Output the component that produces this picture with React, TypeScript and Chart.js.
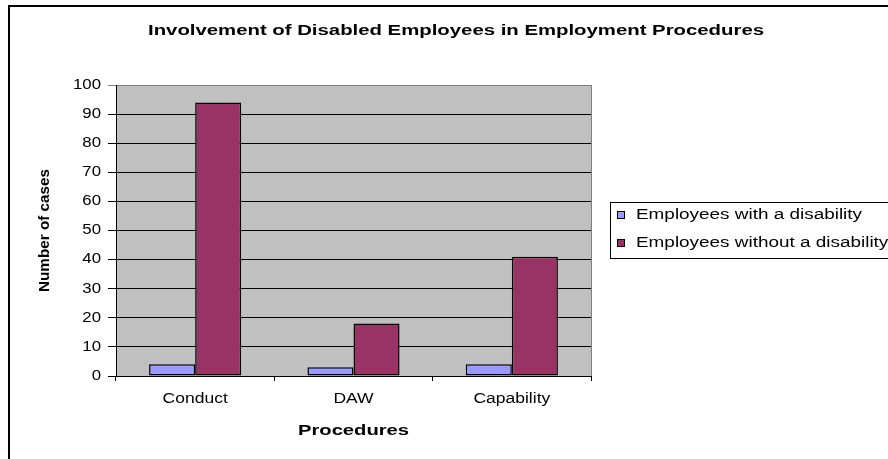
import React, { useEffect, useRef } from "react";
import { Chart, registerables } from "chart.js";

Chart.register(...registerables);

const titleText = "Involvement of Disabled Employees in Employment Procedures";
const xTitleText = "Procedures";
const yTitleText = "Number of cases";
const categories = ["Conduct", "DAW", "Capability"];
const seriesNames = ["Employees with a disability", "Employees without a disability"];
const withDisability = [4, 3, 4];
const withoutDisability = [94, 18, 41];
const yTickValues = [0, 10, 20, 30, 40, 50, 60, 70, 80, 90, 100];
const seriesColors = ["#9999FF", "#993366"];

const FONT = '"Liberation Sans", Arial, sans-serif';

function drawText(
  ctx: CanvasRenderingContext2D,
  text: string,
  x: number,
  y: number,
  font: string,
  align: CanvasTextAlign,
  opts: { sx?: number; width?: number } = {}
) {
  ctx.save();
  ctx.font = font;
  ctx.fillStyle = "#000";
  ctx.textBaseline = "middle";
  ctx.textAlign = align;
  const w = ctx.measureText(text).width;
  const sx = opts.width ? opts.width / w : opts.sx ?? 1;
  ctx.translate(x, y);
  ctx.scale(sx, 1);
  ctx.fillText(text, 0, 0);
  ctx.restore();
}

const customPlugin = {
  id: "customDecor",
  beforeDraw(chart: any) {
    const { ctx, chartArea: a } = chart;
    ctx.save();
    ctx.fillStyle = "#ffffff";
    ctx.fillRect(0, 0, chart.width, chart.height);
    ctx.fillStyle = "#C0C0C0";
    ctx.fillRect(a.left, a.top, a.right - a.left, a.bottom - a.top);
    ctx.restore();
  },
  afterDraw(chart: any) {
    const { ctx, chartArea: a } = chart;
    const xs = chart.scales.x;
    const ys = chart.scales.y;
    ctx.save();
    ctx.strokeStyle = "#000";
    ctx.lineWidth = 2;
    ctx.strokeRect(9, 6, 900, 480);
    ctx.strokeStyle = "#808080";
    ctx.lineWidth = 1;
    ctx.beginPath();
    ctx.moveTo(Math.round(a.right) + 0.5, a.top);
    ctx.lineTo(Math.round(a.right) + 0.5, a.bottom);
    ctx.stroke();
    ctx.restore();

    drawText(ctx, titleText, 456, 31, `bold 14px ${FONT}`, "center", { width: 616 });
    yTickValues.forEach((v) => {
      drawText(ctx, String(v), 101, ys.getPixelForValue(v), `14px ${FONT}`, "right", { sx: 1.2 });
    });
    categories.forEach((c, i) => {
      drawText(ctx, c, xs.getPixelForValue(i), 399, `14px ${FONT}`, "center", { sx: 1.25 });
    });
    drawText(ctx, xTitleText, (a.left + a.right) / 2, 431, `bold 14px ${FONT}`, "center", { width: 111 });
    ctx.save();
    ctx.font = `bold 14px ${FONT}`;
    ctx.fillStyle = "#000";
    ctx.textAlign = "center";
    ctx.textBaseline = "middle";
    ctx.translate(45, (a.top + a.bottom) / 2);
    ctx.rotate(-Math.PI / 2);
    const yw = ctx.measureText(yTitleText).width;
    ctx.scale(123 / yw, 1);
    ctx.fillText(yTitleText, 0, 0);
    ctx.restore();

    ctx.save();
    ctx.strokeStyle = "#000";
    ctx.lineWidth = 1;
    ctx.strokeRect(610.5, 202.5, 300, 56);
    const rowsY = [215, 243];
    seriesNames.forEach((_name, i) => {
      ctx.fillStyle = seriesColors[i];
      ctx.fillRect(617, rowsY[i] - 4, 8, 8);
      ctx.strokeStyle = "#000";
      ctx.strokeRect(617.5, rowsY[i] - 3.5, 7, 7);
    });
    ctx.font = `14px ${FONT}`;
    const baseW = ctx.measureText(seriesNames[0]).width;
    ctx.restore();
    const lsx = 226 / baseW;
    seriesNames.forEach((name, i) => {
      drawText(ctx, name, 636, rowsY[i], `14px ${FONT}`, "left", { sx: lsx });
    });
  },
};

export default function App() {
  const canvasRef = useRef<HTMLCanvasElement | null>(null);

  useEffect(() => {
    if (!canvasRef.current) return;
    const chart = new Chart(canvasRef.current, {
      type: "bar",
      data: {
        labels: categories,
        datasets: [
          {
            label: seriesNames[0],
            data: withDisability,
            backgroundColor: seriesColors[0],
            borderColor: "#000",
            borderWidth: 1.5,
            borderSkipped: false,
            categoryPercentage: 0.582,
            barPercentage: 1,
          },
          {
            label: seriesNames[1],
            data: withoutDisability,
            backgroundColor: seriesColors[1],
            borderColor: "#000",
            borderWidth: 1.5,
            borderSkipped: false,
            categoryPercentage: 0.582,
            barPercentage: 1,
          },
        ],
      },
      options: {
        animation: false,
        responsive: false,
        devicePixelRatio: 1,
        layout: { padding: { left: 0, top: 85, right: 888 - 591, bottom: 0 } },
        plugins: {
          legend: { display: false },
          title: { display: false },
          tooltip: { enabled: false },
        },
        scales: {
          x: {
            afterFit: (scale: any) => {
              scale.height = 459 - 376;
            },
            ticks: { display: false },
            grid: {
              offset: true,
              drawOnChartArea: false,
              drawTicks: true,
              tickLength: 5,
              color: "#000",
            },
            border: { display: true, color: "#000", width: 1 },
          },
          y: {
            min: 0,
            max: 100,
            afterFit: (scale: any) => {
              scale.width = 116;
            },
            ticks: { display: false, stepSize: 10 },
            grid: {
              drawTicks: true,
              tickLength: 8,
              color: (c: any) => (c.tick && c.tick.value === 100 ? "#808080" : "#000"),
              lineWidth: 1,
            },
            border: { display: true, color: "#000", width: 1 },
          },
        },
      },
      plugins: [customPlugin],
    });
    return () => chart.destroy();
  }, []);

  return (
    <div style={{ position: "absolute", left: 0, top: 0, width: 888, height: 459 }}>
      <canvas ref={canvasRef} width={888} height={459} style={{ width: 888, height: 459 }} />
    </div>
  );
}
